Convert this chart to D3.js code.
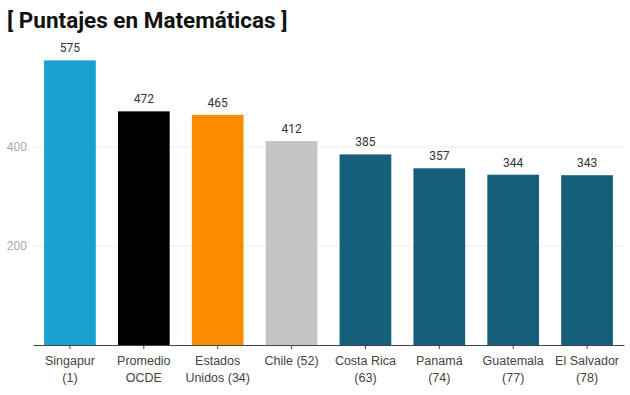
<!DOCTYPE html>
<html>
<head>
<meta charset="utf-8">
<script src="https://cdn.jsdelivr.net/npm/d3@7"></script>
<style>
  body { margin: 0; background: #fff; font-family: Roboto, sans-serif; }
</style>
</head>
<body>
<div id="chart"></div>
<script>
// Puntajes en Matemáticas
const paises = ["Singapur|(1)", "Promedio|OCDE", "Estados|Unidos (34)", "Chile (52)", "Costa Rica|(63)", "Panamá|(74)", "Guatemala|(77)", "El Salvador|(78)"];
const puntajes = [575, 472, 465, 412, 385, 357, 344, 343];
const colores = ["#1ba1d0", "#000000", "#fb8c00", "#c4c4c4", "#155f7a", "#155f7a", "#155f7a", "#155f7a"];
const ticksY = [200, 400];

const width = 630, height = 395;
const margin = { top: 50, right: 6, bottom: 50, left: 33 };

const svg = d3.select("#chart").append("svg")
  .attr("width", width)
  .attr("height", height);

svg.append("text")
  .attr("x", 7)
  .attr("y", 28)
  .attr("font-size", 22.5)
  .attr("font-weight", "bold")
  .attr("fill", "#111")
  .text("[ Puntajes en Matemáticas ]");

const x = d3.scaleBand()
  .domain(paises)
  .range([margin.left, width - margin.right])
  .paddingInner(0.3)
  .paddingOuter(0.15);

const y = d3.scaleLinear()
  .domain([0, 600])
  .range([345, 48]);

// gridlines + y labels
const g = svg.append("g");
g.selectAll("line.grid")
  .data(ticksY)
  .join("line")
  .attr("class", "grid")
  .attr("x1", margin.left)
  .attr("x2", width - margin.right)
  .attr("y1", d => y(d))
  .attr("y2", d => y(d))
  .attr("stroke", "#ececec");

g.selectAll("text.ylab")
  .data(ticksY)
  .join("text")
  .attr("class", "ylab")
  .attr("x", 27)
  .attr("y", d => y(d))
  .attr("dy", "0.35em")
  .attr("text-anchor", "end")
  .attr("font-size", 12)
  .attr("fill", "#aaa")
  .text(d => d);

// bars
svg.selectAll("rect.bar")
  .data(paises)
  .join("rect")
  .attr("class", "bar")
  .attr("x", d => x(d))
  .attr("width", x.bandwidth())
  .attr("y", (d, i) => y(puntajes[i]))
  .attr("height", (d, i) => y(0) - y(puntajes[i]))
  .attr("fill", (d, i) => colores[i]);

svg.selectAll("text.val")
  .data(paises)
  .join("text")
  .attr("class", "val")
  .attr("x", d => x(d) + x.bandwidth() / 2)
  .attr("y", (d, i) => y(puntajes[i]) - 8)
  .attr("text-anchor", "middle")
  .attr("font-size", 12)
  .attr("fill", "#333")
  .text((d, i) => puntajes[i]);

// x axis
const xAxis = svg.append("g")
  .attr("transform", "translate(0," + y(0) + ")")
  .call(d3.axisBottom(x).tickSize(4).tickSizeOuter(0).tickFormat(""));
xAxis.select(".domain").attr("stroke", "#444");
xAxis.selectAll(".tick line").attr("stroke", "#444");

xAxis.selectAll(".tick").each(function(d) {
  const t = d3.select(this).append("text")
    .attr("fill", "#444")
    .attr("font-size", 12.5)
    .attr("text-anchor", "middle")
    .attr("y", 20);
  d.split("|").forEach((line, i) => {
    t.append("tspan").attr("x", 0).attr("dy", i === 0 ? 0 : 17).text(line);
  });
});
</script>
</body>
</html>
